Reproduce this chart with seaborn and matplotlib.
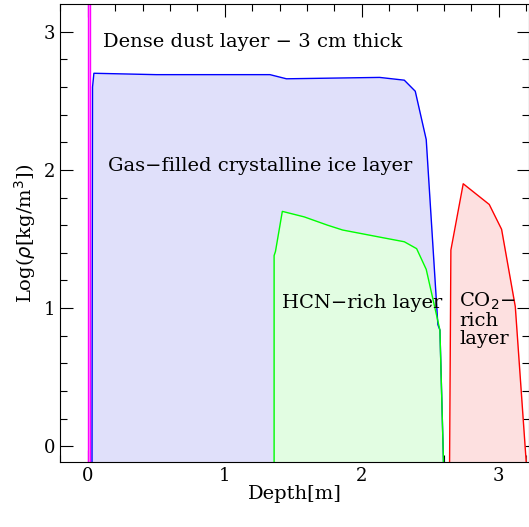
import numpy as np
import matplotlib
matplotlib.use("Agg")
import matplotlib.pyplot as plt
import seaborn as sns
import pandas as pd

# layer profiles: depth [m] and log density
dust_x = [0.0, 0.0, 0.02, 0.02]
dust_y = [-1.0, 4.0, 4.0, -1.0]

ice_x = [0.03, 0.035, 0.045, 0.5, 1.33, 1.45, 2.13, 2.31, 2.39, 2.47, 2.555, 2.57, 2.62]
ice_y = [-1.0, 2.60, 2.70, 2.69, 2.69, 2.66, 2.67, 2.65, 2.57, 2.22, 0.88, 0.84, -1.0]

hcn_x = [1.36, 1.36, 1.37, 1.42, 1.58, 1.75, 1.86, 2.15, 2.31, 2.40, 2.47, 2.52, 2.57, 2.62]
hcn_y = [-1.0, 1.38, 1.41, 1.70, 1.66, 1.60, 1.565, 1.51, 1.48, 1.43, 1.28, 1.06, 0.84, -1.0]

co2_x = [2.635, 2.65, 2.74, 2.93, 3.02, 3.12, 3.20]
co2_y = [-1.0, 1.42, 1.90, 1.75, 1.57, 1.01, -0.12]

sns.set_style("ticks")
plt.rcParams['font.family'] = ['DejaVu Serif']
plt.rcParams['text.color'] = 'black'
plt.rcParams['axes.labelcolor'] = 'black'
plt.rcParams['xtick.color'] = 'black'
plt.rcParams['ytick.color'] = 'black'
plt.rcParams['axes.edgecolor'] = 'black'

fig = plt.figure(figsize=(5.29, 5.27), dpi=100)
ax = fig.add_axes([0.113, 0.123, 0.887, 0.869])

layers = [
    (dust_x, dust_y, "#ff00ff", "#ffb0ff"),
    (ice_x, ice_y, "#0000ff", "#e0e0fa"),
    (hcn_x, hcn_y, "#00ff00", "#e2fde2"),
    (co2_x, co2_y, "#ff0000", "#fde0e0"),
]
for xs, ys, lc, fc in layers:
    ax.fill_between(xs, ys, -1.0, color=fc, lw=0)
    df = pd.DataFrame({"x": xs, "y": ys})
    sns.lineplot(data=df, x="x", y="y", sort=False, color=lc, lw=1.0, ax=ax,
                 estimator=None)

ax.set_xlim(-0.204, 3.22)
ax.set_ylim(-0.116, 3.2)
ax.set_xticks([0, 1, 2, 3])
ax.set_yticks([0, 1, 2, 3])
ax.set_xticks(np.arange(-0.2, 3.25, 0.2), minor=True)
ax.set_yticks(np.arange(-0.0, 3.2, 0.2), minor=True)
ax.tick_params(which="both", direction="in", top=True, right=True, labelsize=13,
               width=0.8)
ax.tick_params(which="major", length=9)
ax.tick_params(which="minor", length=5)
ax.set_xlabel("Depth[m]", fontsize=14, labelpad=0)
ax.set_ylabel(r"Log($\rho$[kg/m$^3$])", fontsize=14, labelpad=4)

ax.text(0.11, 2.93, "Dense dust layer − 3 cm thick", fontsize=14, va="center")
ax.text(0.15, 2.03, "Gas−filled crystalline ice layer", fontsize=14, va="center")
ax.text(1.42, 1.04, "HCN−rich layer", fontsize=14, va="center")
ax.text(2.71, 0.92, "CO$_2$−\nrich\nlayer", fontsize=14, va="center", linespacing=1.0)

fig.savefig("out.png", dpi=100)
